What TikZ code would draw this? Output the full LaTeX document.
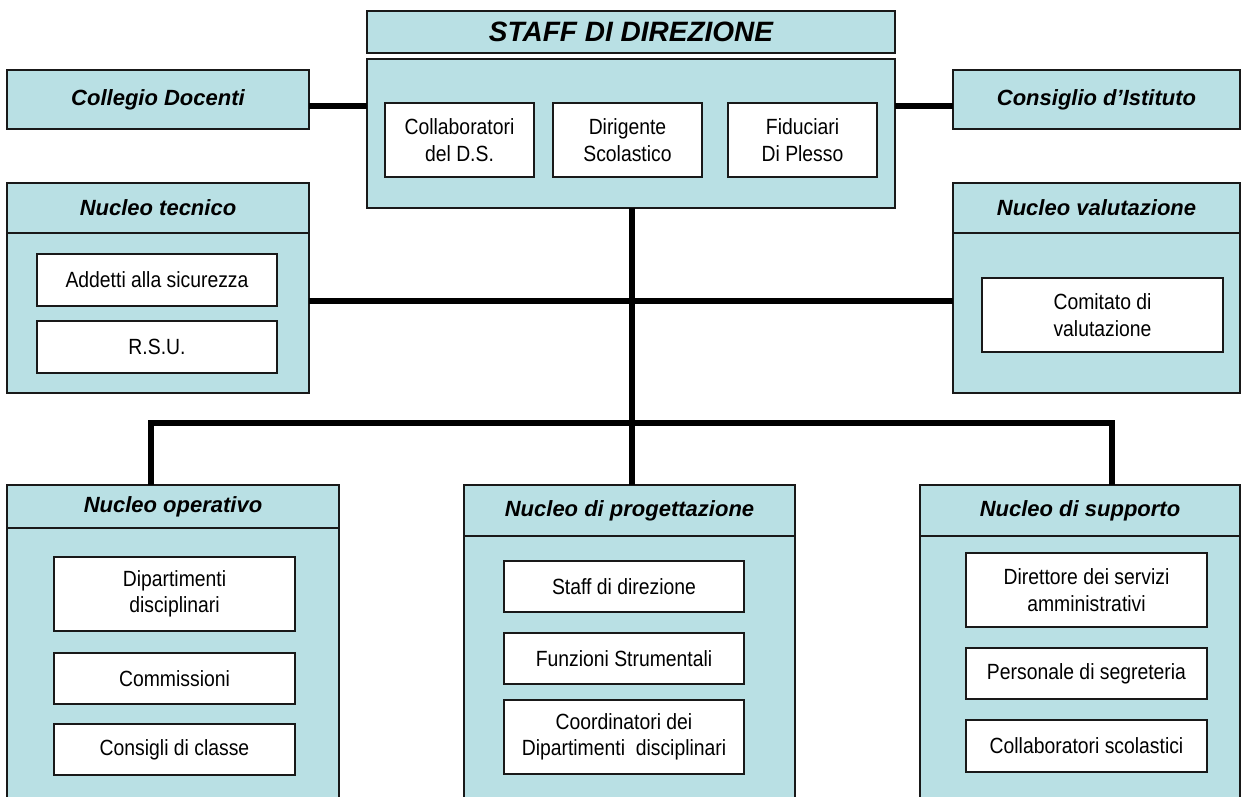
\documentclass[tikz,border=0pt]{standalone}
\usepackage{fontspec}
\setmainfont{Liberation Sans}
\newfontfamily\narrowsans[FakeStretch=0.88]{Liberation Sans}
\definecolor{pale}{RGB}{185,224,228}
\definecolor{edge}{RGB}{25,25,25}
\tikzset{
  x=1pt,y=-1pt,
  panel/.style={draw=edge,fill=pale,line width=1.3pt,inner sep=0pt,outer sep=0pt},
  hdr/.style={panel,font=\fontsize{22}{26}\selectfont\bfseries\itshape},
  item/.style={draw=edge,fill=white,line width=1.3pt,inner sep=0pt,outer sep=0pt,align=center,
    font=\narrowsans\fontsize{22}{26.5}\selectfont},
  link/.style={line width=6pt,line cap=butt,draw=black}
}
\newcommand{\bx}[7]{% style, name, x1, y1, x2, y2, text
  \node[#1,minimum width={#5-#3},minimum height={#6-#4}] (#2) at ({(#3+#5)/2},{(#4+#6)/2}) {#7};}
\begin{document}
\begin{tikzpicture}
\useasboundingbox (0,0) rectangle (1244,796);
\begin{scope}
\clip (0,0) rectangle (1244,796);
% top centre
\bx{hdr}{staffh}{367}{11}{895}{53}{\fontsize{28}{32}\selectfont STAFF DI DIREZIONE}
\bx{panel}{staffb}{367}{59}{895}{208}{}
\bx{item}{collab}{385}{103}{534}{177}{Collaboratori\\del D.S.}
\bx{item}{dirig}{553}{103}{702}{177}{Dirigente\\Scolastico}
\bx{item}{fiduc}{728}{103}{877}{177}{Fiduciari\\Di Plesso}
% sides
\bx{hdr}{colleg}{7}{70}{309}{129}{Collegio Docenti}
\bx{hdr}{consig}{953}{70}{1240}{129}{Consiglio d’Istituto}
\bx{hdr}{tech}{7}{183}{309}{233}{Nucleo tecnico}
\bx{panel}{techb}{7}{233}{309}{393}{}
\bx{item}{addetti}{37}{254}{277}{306}{Addetti alla sicurezza}
\bx{item}{rsu}{37}{321}{277}{373}{R.S.U.}
\bx{hdr}{valut}{953}{183}{1240}{233}{Nucleo valutazione}
\bx{panel}{valutb}{953}{233}{1240}{393}{}
\bx{item}{comit}{982}{278}{1223}{352}{Comitato di\\valutazione}
% bottom row
\bx{hdr}{oper}{7}{485}{339}{528}{Nucleo operativo}
\bx{panel}{operb}{7}{528}{339}{810}{}
\bx{item}{dipart}{54}{557}{295}{631}{Dipartimenti\\disciplinari}
\bx{item}{commis}{54}{653}{295}{704}{Commissioni}
\bx{item}{consc}{54}{724}{295}{775}{Consigli di classe}
\bx{hdr}{prog}{464}{485}{795}{536}{Nucleo di progettazione}
\bx{panel}{progb}{464}{536}{795}{810}{}
\bx{item}{staffd}{504}{561}{744}{612}{Staff di direzione}
\bx{item}{funz}{504}{633}{744}{684}{Funzioni Strumentali}
\bx{item}{coord}{504}{700}{744}{774}{Coordinatori dei\\Dipartimenti\ \ disciplinari}
\bx{hdr}{supp}{920}{485}{1240}{536}{Nucleo di supporto}
\bx{panel}{suppb}{920}{536}{1240}{810}{}
\bx{item}{dirett}{966}{553}{1207}{627}{Direttore dei servizi\\amministrativi}
\bx{item}{perso}{966}{648}{1207}{699}{Personale di segreteria}
\bx{item}{collsc}{966}{720}{1207}{772}{Collaboratori scolastici}
\end{scope}
% connectors
\coordinate (jl) at (151,423);
\coordinate (jm) at (632,423);
\coordinate (jr) at (1112,423);
\coordinate (hy) at (0,106);
\coordinate (my) at (0,301);
\draw[link] (colleg.east |- hy) -- (staffb.west |- hy);
\draw[link] (staffb.east |- hy) -- (consig.west |- hy);
\draw[link] (techb.east |- my) -- (valutb.west |- my);
\draw[link] (staffb.south -| jm) -- (prog.north -| jm);
\draw[link] ([xshift=-3pt]jl) -- ([xshift=3pt]jr);
\draw[link] ([yshift=-3pt]jl) -- (oper.north -| jl);
\draw[link] ([yshift=-3pt]jr) -- (supp.north -| jr);
\end{tikzpicture}
\end{document}
